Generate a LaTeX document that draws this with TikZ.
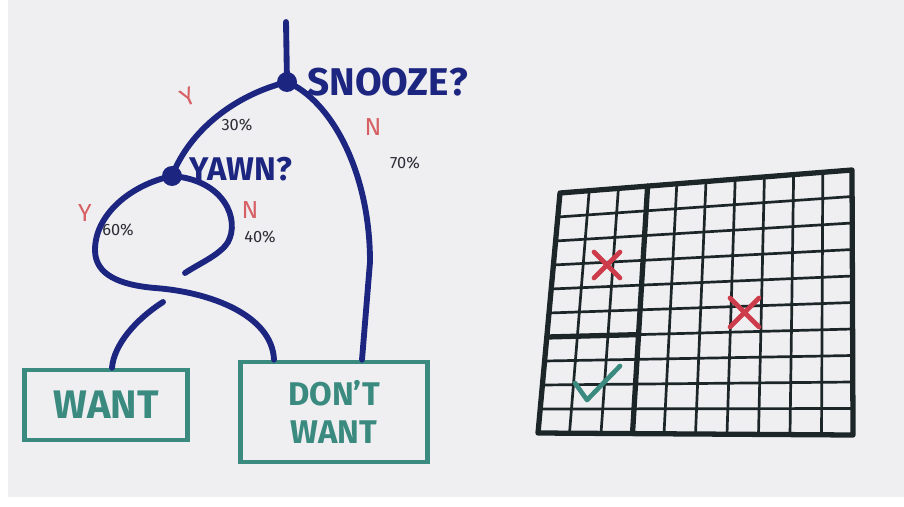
\documentclass[tikz,border=0pt]{standalone}
\usepackage{fontspec}
\setmainfont{Fira Sans}
\usetikzlibrary{positioning,calc}
\definecolor{board}{RGB}{239,239,241}
\definecolor{ink}{RGB}{28,38,128}
\definecolor{tealink}{RGB}{58,138,128}
\definecolor{redink}{RGB}{214,96,100}
\definecolor{markred}{RGB}{205,60,75}
\definecolor{gridink}{RGB}{28,38,40}
\definecolor{pctink}{RGB}{45,45,55}
\tikzset{
  tree/.style={draw=ink, line width=5pt, line cap=round},
  junction/.style={circle, fill=ink, minimum size=0.6cm, inner sep=0pt},
  question/.style={text=ink, font=\fontsize{33}{35}\selectfont\bfseries, inner sep=0pt},
  answer/.style={text=redink, font=\fontsize{21}{23}\selectfont, inner sep=0pt},
  pct/.style={text=pctink, font=\fontsize{14}{16}\selectfont, inner sep=0pt},
  outcome/.style={draw=tealink, line width=4pt, text=tealink, align=center, font=\fontsize{28}{32}\selectfont\bfseries},
  gridthin/.style={draw=gridink, line width=2.3pt},
  gridthick/.style={draw=gridink, line width=4.5pt, line cap=round, line join=round},
  crossmark/.style={draw=markred, line width=4pt, line cap=round},
  tickmark/.style={draw=tealink, line width=4pt, line cap=round, line join=round}
}
\begin{document}
\begin{tikzpicture}[x=0.03cm, y=-0.03cm]
  \useasboundingbox (0,0) rectangle (904,506);
  \fill[white] (0,0) rectangle (904,506);
  \fill[board] (8,0) rectangle (904,497);

  \node[junction] (snooze) at (287,82) {};
  \node[junction] (yawn) at (172,176) {};
  \node[question, right=0.3cm of snooze] (snoozeq) {SNOOZE?};
  \node[question, font=\fontsize{28}{30}\selectfont\bfseries, right=0.22cm of yawn, yshift=0.2cm] (yawnq) {YAWN?};

  \node[outcome, font=\fontsize{34}{36}\selectfont\bfseries, minimum width=4.9cm, minimum height=2.1cm] (want) at (106,405) {WANT};
  \node[outcome, minimum width=5.6cm, minimum height=3cm] (dontwant) at (334,412) {DON'T\\WANT};

  \node[answer, rotate=25] (y1) at (188,97) {Y};
  \node[pct] (p30) at (237,125) {30\%};
  \node[answer] (n1) at (373,127) {N};
  \node[pct] (p70) at (405,163) {70\%};
  \node[answer] (y2) at (85,213) {Y};
  \node[pct] (p60) at (118,230) {60\%};
  \node[answer] (n2) at (250,210) {N};
  \node[pct] (p40) at (260,237) {40\%};

  \coordinate (stem) at (286,22);
  \coordinate (gapA) at (185,273);
  \coordinate (gapB) at (163,302);

  \draw[tree] (stem) -- (snooze.center);
  \draw[tree] (snooze.center) .. controls (235,95) and (190,130) .. (yawn.center);
  \draw[tree] (snooze.center) .. controls (330,100) and (370,170) .. (370,262) -- ($(dontwant.north)+(28,0)$);
  \draw[tree] (yawn.center) .. controls (130,185) and (95,215) .. (95,250)
    .. controls (95,275) and (120,285) .. (155,288)
    .. controls (210,292) and (272,315) .. ($(dontwant.north)+(-60,0)$);
  \draw[tree] (yawn.center) .. controls (225,180) and (240,220) .. (228,242)
    .. controls (220,255) and (200,263) .. (gapA);
  \draw[tree] (gapB) .. controls (135,320) and (114,345) .. ($(want.north)+(6,0)$);

  \coordinate (gTL) at (560,193);
  \coordinate (gTR) at (852,170);
  \coordinate (gBL) at (538,433);
  \coordinate (gBR) at (853,435);
  \foreach \k in {1,...,9} {
    \draw[gridthin] ($(gTL)!\k/10!(gTR)$) -- ($(gBL)!\k/10!(gBR)$);
    \draw[gridthin] ($(gTL)!\k/10!(gBL)$) -- ($(gTR)!\k/10!(gBR)$);
  }
  \draw[gridthick] (gTL) -- (gTR) -- (gBR) -- (gBL) -- cycle;
  \coordinate (dTop) at ($(gTL)!0.3!(gTR)$);
  \coordinate (dL) at ($(gTL)!0.6!(gBL)$);
  \coordinate (dR) at ($(gTR)!0.6!(gBR)$);
  \coordinate (dMid) at ($(dL)!0.3!(dR)$);
  \coordinate (dBot) at ($(gBL)!0.3!(gBR)$);
  \draw[gridthick] (dTop) -- (dMid) -- (dBot);
  \draw[gridthick] (dL) -- (dMid);

  \draw[crossmark] (594,252) -- (620,278) (620,252) -- (594,278);
  \draw[crossmark] (730,298) -- (759,327) (759,298) -- (730,327);
  \draw[tickmark] (575,383) -- (587,400) -- (620,366);
\end{tikzpicture}
\end{document}
